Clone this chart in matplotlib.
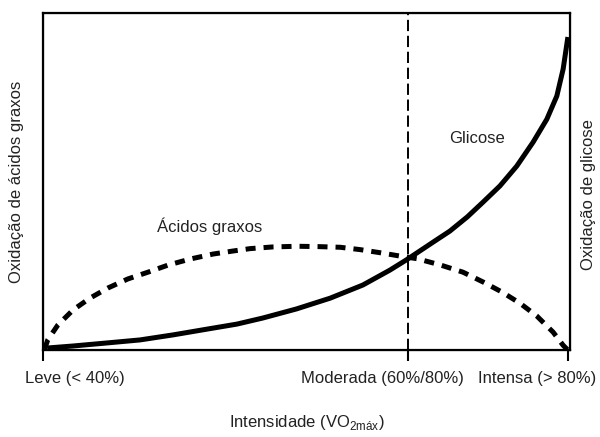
import numpy as np
import matplotlib
matplotlib.use('Agg')
import matplotlib.pyplot as plt

plt.rcParams['font.family'] = ['Liberation Sans', 'DejaVu Sans']

# intensidade (0-100) e oxidação relativa (0-100)
glicose_x = [0.8, 5.7, 12.1, 18.4, 24.7, 31.1, 36.8, 41.7, 48.1, 54.5, 60.7, 65.8, 69.1,
             71.5, 74.0, 77.2, 80.5, 83.5, 86.7, 89.9, 93.0, 95.6, 97.5, 98.7, 99.6]
glicose_y = [0.6, 1.2, 2.1, 3.0, 4.5, 6.2, 7.7, 9.5, 12.2, 15.4, 19.3, 23.7, 26.9,
             29.4, 32.0, 35.3, 39.5, 43.9, 48.7, 54.6, 61.7, 68.5, 75.4, 83.4, 92.9]

graxos_x = [0.3, 0.9, 2.8, 5.7, 8.9, 12.3, 16.1, 19.9, 23.7, 27.9, 32.3, 36.1, 39.3, 43.6, 48.2,
            52.2, 56.4, 60.2, 63.9, 67.7, 71.0, 75.3, 79.7, 83.5, 87.1, 90.5, 93.7, 96.8, 98.7, 99.6]
graxos_y = [0.3, 3.0, 7.4, 11.9, 15.4, 18.4, 21.1, 23.1, 25.2, 27.0, 28.5, 29.4, 30.1, 30.6, 30.8,
            30.7, 30.5, 29.8, 28.9, 27.9, 27.1, 25.3, 23.1, 20.2, 17.2, 13.9, 10.1, 5.3, 1.4, 0.0]

tick_pos = [0, 69.3, 99.6]
tick_labels = ['Leve (< 40%)', 'Moderada (60%/80%)', 'Intensa (> 80%)']
label_pos = [6.1, 64.5, 93.7]

txt = '#222222'
fs = 12

fig = plt.figure(figsize=(6, 4.37), dpi=100)
ax = fig.add_axes([0.0717, 0.199, 0.8783, 0.771])

ax.plot(glicose_x, glicose_y, color='k', lw=3.6, solid_joinstyle='round', solid_capstyle='butt')
ax.plot(graxos_x, graxos_y, color='k', lw=3.6, linestyle=(0, (2, 1.6)))
ax.axvline(tick_pos[1], color='k', lw=1.4, linestyle=(0, (5.8, 2.4)))

ax.text(31.7, 36.8, 'Ácidos graxos', ha='center', va='center', fontsize=fs, color=txt)
ax.text(82.4, 62.9, 'Glicose', ha='center', va='center', fontsize=fs, color=txt)

ax.set_xlim(0, 100)
ax.set_ylim(0, 100)
ax.set_xticks(tick_pos)
ax.set_xticklabels([])
ax.set_yticks([])
ax.tick_params(axis='x', direction='out', length=8, width=1.5)
for t, p in zip(tick_labels, label_pos):
    ax.text(p, -8.5, t, ha='center', va='center', fontsize=fs, color=txt)
for s in ax.spines.values():
    s.set_linewidth(1.6)

ax.set_xlabel('Intensidade (VO$_{\\mathregular{2máx}}$)', fontsize=fs, color=txt, labelpad=34)
ax.set_ylabel('Oxidação de ácidos graxos', fontsize=fs, color=txt, labelpad=14)
ax2 = ax.twinx()
ax2.set_yticks([])
ax2.set_ylabel('Oxidação de glicose', fontsize=fs, color=txt)
ax2.yaxis.set_label_coords(1.021, 0.46)

fig.savefig('out.png', dpi=100)
